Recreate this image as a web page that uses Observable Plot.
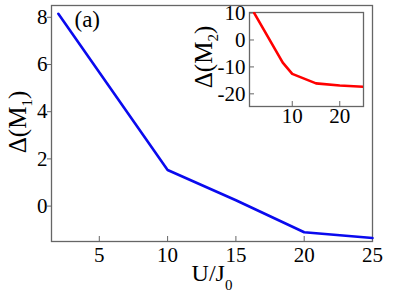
<!DOCTYPE html>
<html>
<head>
<meta charset="utf-8">
<script src="https://cdn.jsdelivr.net/npm/d3@7"></script>
<script src="https://cdn.jsdelivr.net/npm/@observablehq/plot@0.6"></script>
<style>
  body { margin: 0; background: white; }
  #wrap { position: relative; width: 415px; height: 294px; }
  #inset { position: absolute; left: 189px; top: 0px; }
</style>
</head>
<body>
<div id="wrap"><div id="main"></div><div id="inset"></div></div>
<script>
// Main panel data
const xMain = [2, 10, 15, 20, 25];
const yMain = [8.15, 1.53, 0.25, -1.11, -1.35];
const xTicksMain = [5, 10, 15, 20, 25];
const yTicksMain = [0, 2, 4, 6, 8];

// Inset data
const xInset = [2, 8, 10, 15, 20, 25];
const yInset = [10, -8.4, -12.6, -16.1, -16.9, -17.4];
const xTicksInset = [10, 20];
const yTicksInset = [-20, -10, 0, 10];

const mainData = xMain.map((x, i) => ({x, y: yMain[i]}));
const insetData = xInset.map((x, i) => ({x, y: yInset[i]}));
const fmt = d => String(d);
const font = "'Liberation Serif', serif";

const main = Plot.plot({
  width: 415, height: 294,
  marginLeft: 51, marginRight: 43, marginTop: 5, marginBottom: 53,
  x: {domain: [1.5, 25]},
  y: {domain: [-1.5, 8.5]},
  style: {background: "white", color: "black", overflow: "visible"},
  marks: [
    Plot.axisX(xTicksMain, {tickSize: -5, tickPadding: 11, tickFormat: fmt, label: null, stroke: "#666", fontSize: 21, fontFamily: font, fill: "black"}),
    Plot.axisY(yTicksMain, {tickSize: 4, tickPadding: 0, tickFormat: fmt, label: null, stroke: "#666", fontSize: 21, fontFamily: font, fill: "black"}),
    Plot.frame({stroke: "#666", strokeWidth: 1.3}),
    Plot.line(mainData, {x: "x", y: "y", stroke: "#0a0aee", strokeWidth: 2.6}),
    Plot.text(["(a)"], {text: d => d, frameAnchor: "top-left", dx: 23, dy: 5, fontSize: 23, fontFamily: font, fill: "black"})
  ]
});
document.getElementById("main").appendChild(main);

const ms = d3.select(main);
const yl = ms.append("text")
  .attr("transform", "translate(26,122) rotate(-90)")
  .attr("text-anchor", "middle")
  .attr("font-size", 25).attr("fill", "black");
yl.append("tspan").text("Δ(M");
yl.append("tspan").attr("font-size", 15).attr("dy", 6).text("1");
yl.append("tspan").attr("dy", -6).text(")");

const xl = ms.append("text")
  .attr("x", 212).attr("y", 281)
  .attr("text-anchor", "middle")
  .attr("font-size", 24).attr("fill", "black");
xl.append("tspan").text("U/J");
xl.append("tspan").attr("font-size", 15).attr("dy", 9).text("0");

const inset = Plot.plot({
  width: 184, height: 130,
  marginLeft: 60, marginRight: 10, marginTop: 12, marginBottom: 24,
  x: {domain: [1, 25]},
  y: {domain: [-24.7, 10.2]},
  style: {background: "none", color: "black", overflow: "visible"},
  marks: [
    Plot.axisX(xTicksInset, {tickSize: -5, tickPadding: 7, tickFormat: fmt, label: null, stroke: "#666", fontSize: 21, fontFamily: font, fill: "black"}),
    Plot.axisY(yTicksInset, {tickSize: -5, tickPadding: 9, tickFormat: fmt, label: null, stroke: "#666", fontSize: 21, fontFamily: font, fill: "black"}),
    Plot.frame({stroke: "#666", strokeWidth: 1.3}),
    Plot.line(insetData, {x: "x", y: "y", stroke: "#ff0000", strokeWidth: 2.6, clip: true})
  ]
});
document.getElementById("inset").appendChild(inset);

const is = d3.select(inset);
const il = is.append("text")
  .attr("transform", "translate(23,57) rotate(-90)")
  .attr("text-anchor", "middle")
  .attr("font-size", 25).attr("fill", "black");
il.append("tspan").text("Δ(M");
il.append("tspan").attr("font-size", 15).attr("dy", 6).text("2");
il.append("tspan").attr("dy", -6).text(")");

// force serif font on every text element
for (const svg of [main, inset]) {
  d3.select(svg).attr("font-family", "Liberation Serif").style("font-family", font);
  d3.select(svg).selectAll("text").style("font-family", font);
}
</script>
</body>
</html>
